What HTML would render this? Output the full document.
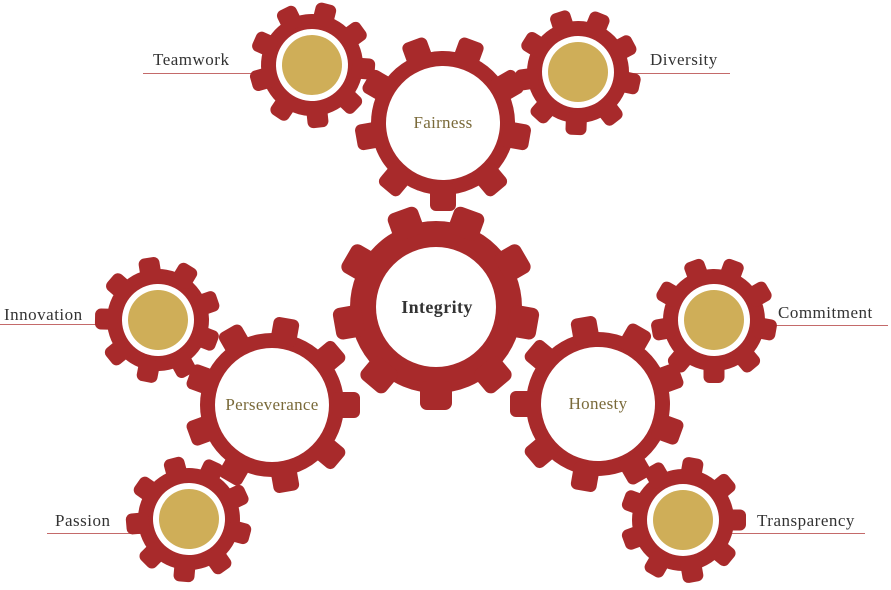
<!DOCTYPE html>
<html><head><meta charset="utf-8"><style>
html,body{margin:0;padding:0;background:#fff;}
svg{display:block;}
text{font-family:"Liberation Serif",serif;}
</style></head><body>
<svg width="891" height="590" viewBox="0 0 891 590" xmlns="http://www.w3.org/2000/svg">
<defs>
<g id="tS"><rect x="40" y="-10.5" width="23" height="21" rx="6" fill="#a82a2b"/></g>
<g id="tM"><rect x="60" y="-13" width="28" height="26" rx="6" fill="#a82a2b"/></g>
<g id="tL"><rect x="74" y="-16" width="29" height="32" rx="7" fill="#a82a2b"/></g>
<g id="small">
<circle r="51" fill="#a82a2b"/>
<use href="#tS" transform="rotate(0)"/><use href="#tS" transform="rotate(40)"/><use href="#tS" transform="rotate(80)"/><use href="#tS" transform="rotate(120)"/><use href="#tS" transform="rotate(160)"/><use href="#tS" transform="rotate(200)"/><use href="#tS" transform="rotate(240)"/><use href="#tS" transform="rotate(280)"/><use href="#tS" transform="rotate(320)"/>
<circle r="36" fill="#fff"/><circle r="30" fill="#cfae58"/>
</g>
<g id="mid">
<circle r="72" fill="#a82a2b"/>
<use href="#tM" transform="rotate(0)"/><use href="#tM" transform="rotate(40)"/><use href="#tM" transform="rotate(80)"/><use href="#tM" transform="rotate(120)"/><use href="#tM" transform="rotate(160)"/><use href="#tM" transform="rotate(200)"/><use href="#tM" transform="rotate(240)"/><use href="#tM" transform="rotate(280)"/><use href="#tM" transform="rotate(320)"/>
<circle r="57" fill="#fff"/>
</g>
</defs>

<g stroke="#c46a6a" stroke-width="1">
<line x1="143" y1="73.5" x2="265" y2="73.5"/>
<line x1="600" y1="73.5" x2="730" y2="73.5"/>
<line x1="0" y1="324.5" x2="120" y2="324.5"/>
<line x1="750" y1="325.5" x2="888" y2="325.5"/>
<line x1="47" y1="533.5" x2="160" y2="533.5"/>
<line x1="720" y1="533.5" x2="865" y2="533.5"/>
</g>

<use href="#small" transform="translate(312,65) rotate(4)"/>
<use href="#small" transform="translate(578,72) rotate(12)"/>
<use href="#mid" transform="translate(443,123) rotate(10)"/>
<use href="#small" transform="translate(158,320) rotate(21)"/>
<use href="#small" transform="translate(714,320) rotate(10)"/>
<use href="#mid" transform="translate(272,405) rotate(0)"/>
<use href="#mid" transform="translate(598,404) rotate(20)"/>
<use href="#small" transform="translate(189,519) rotate(15)"/>
<use href="#small" transform="translate(683,520) rotate(0)"/>

<g transform="translate(436,307)">
<circle r="86" fill="#a82a2b"/>
<use href="#tL" transform="rotate(10)"/><use href="#tL" transform="rotate(50)"/><use href="#tL" transform="rotate(90)"/><use href="#tL" transform="rotate(130)"/><use href="#tL" transform="rotate(170)"/><use href="#tL" transform="rotate(210)"/><use href="#tL" transform="rotate(250)"/><use href="#tL" transform="rotate(290)"/><use href="#tL" transform="rotate(330)"/>
<circle r="60" fill="#fff"/>
</g>

<g font-size="17" fill="#7a6a3a" text-anchor="middle" letter-spacing="0.3">
<text x="443" y="128">Fairness</text>
<text x="272" y="410">Perseverance</text>
<text x="598" y="409">Honesty</text>
</g>
<text x="437" y="313" font-size="18" font-weight="bold" fill="#333" text-anchor="middle" letter-spacing="0.4">Integrity</text>
<g font-size="17" fill="#333" letter-spacing="0.5">
<text x="153" y="65">Teamwork</text>
<text x="650" y="65">Diversity</text>
<text x="4" y="320">Innovation</text>
<text x="778" y="318">Commitment</text>
<text x="55" y="526">Passion</text>
<text x="757" y="526">Transparency</text>
</g>
</svg>
</body></html>
